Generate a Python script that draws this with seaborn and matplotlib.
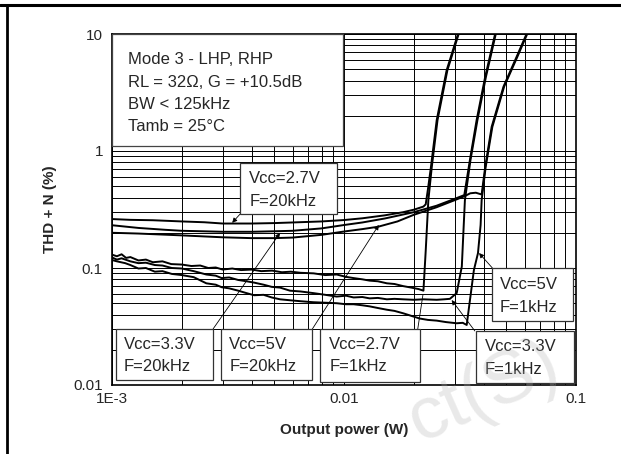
import matplotlib
matplotlib.use("Agg")
import matplotlib.pyplot as plt
import pandas as pd
import seaborn as sns
from matplotlib.lines import Line2D
from matplotlib.patches import Rectangle
from matplotlib.ticker import FixedLocator, FixedFormatter, NullFormatter

# --- data (output power in mW, THD+N in %) ---
p_27_20k = [1.0, 1.2, 1.5, 2.0, 2.5, 3.0, 4.0, 5.0, 6.0, 8.0, 10, 12, 15, 18, 20, 22,
            22.5, 23.0, 23.7, 25.1, 27.7, 31.0]
thd_27_20k = [0.262, 0.258, 0.256, 0.250, 0.246, 0.240, 0.240, 0.242, 0.245, 0.250, 0.257,
              0.266, 0.282, 0.300, 0.315, 0.335, 0.35, 0.47, 0.73, 1.84, 4.9, 10.0]

p_33_20k = [1.0, 1.3, 1.7, 2.0, 3.0, 4.0, 5.0, 6.0, 8.0, 10, 12, 15, 20, 25, 30, 33,
            34.9, 37.3, 40.6, 44.8]
thd_33_20k = [0.232, 0.220, 0.212, 0.208, 0.204, 0.204, 0.206, 0.208, 0.218, 0.233, 0.245,
              0.265, 0.300, 0.340, 0.390, 0.420, 0.84, 1.84, 4.3, 10.0]

p_5_20k = [1.0, 1.3, 2.0, 3.0, 4.0, 5.0, 6.0, 8.0, 10, 12, 14, 17, 20, 25, 30, 33, 35,
           37, 39.2, 40.6, 43.3, 48.7, 55.5, 61.2]
thd_5_20k = [0.200, 0.197, 0.190, 0.183, 0.180, 0.180, 0.182, 0.192, 0.205, 0.215, 0.225,
             0.250, 0.285, 0.330, 0.380, 0.410, 0.435, 0.440, 0.425, 0.73, 1.61, 3.55, 6.4, 10.0]

p_27_1k = [1.0, 1.05, 1.1, 1.15, 1.2, 1.3, 1.4, 1.5, 1.65, 1.8, 2.0, 2.2, 2.4, 2.6, 2.8,
           3.0, 3.3, 3.6, 4.0, 4.4, 4.9, 5.4, 5.9, 6.5, 7.4, 8.3, 9.3, 10.2, 11.0, 12.0,
           12.9, 14.0, 15.3, 16.5, 18.0, 19.5, 21.0, 22.0, 22.5, 23.1, 23.9, 25.3, 27.9, 31.2]
thd_27_1k = [0.130, 0.126, 0.131, 0.122, 0.124, 0.116, 0.118, 0.112, 0.114, 0.108, 0.107,
             0.104, 0.105, 0.100, 0.101, 0.097, 0.099, 0.096, 0.097, 0.094, 0.095, 0.092,
             0.093, 0.091, 0.090, 0.087, 0.088, 0.084, 0.082, 0.080, 0.078, 0.077, 0.074,
             0.073, 0.070, 0.068, 0.066, 0.064, 0.14, 0.38, 0.73, 1.84, 4.9, 10.0]

p_33_1k = [1.0, 1.05, 1.1, 1.2, 1.3, 1.4, 1.53, 1.65, 1.81, 2.0, 2.25, 2.55, 2.8, 2.97,
           3.2, 3.5, 3.8, 4.1, 4.5, 4.88, 5.3, 5.85, 6.5, 7.38, 8.3, 9.3, 10.2, 11.0, 12.0,
           12.9, 14.0, 15.3, 16.5, 18.0, 20.0, 22.0, 25.1, 27.0, 28.6, 30.6, 32.2, 32.7,
           33.2, 35.1, 37.6, 40.9, 45.1]
thd_33_1k = [0.123, 0.118, 0.121, 0.114, 0.110, 0.111, 0.106, 0.105, 0.100, 0.099, 0.094,
             0.088, 0.086, 0.082, 0.083, 0.079, 0.077, 0.075, 0.072, 0.069, 0.068, 0.064,
             0.063, 0.061, 0.059, 0.057, 0.058, 0.056, 0.0565, 0.055, 0.0555, 0.054, 0.0545,
             0.054, 0.0535, 0.054, 0.0535, 0.054, 0.0545, 0.061, 0.103, 0.20, 0.38, 0.84,
             1.84, 4.3, 10.0]

p_5_1k = [1.0, 1.05, 1.14, 1.2, 1.3, 1.4, 1.53, 1.65, 1.81, 2.0, 2.25, 2.55, 2.8, 2.97,
          3.2, 3.5, 3.8, 4.1, 4.5, 4.88, 5.3, 5.85, 6.5, 7.38, 8.3, 9.3, 10.2, 11.0, 12.0,
          12.9, 14.0, 15.3, 16.5, 18.0, 19.5, 21.2, 23.0, 25.1, 27.5, 30.6, 32.5, 33.8,
          34.9, 36.3, 37.8, 38.8, 39.2, 40.8, 43.6, 49.0, 55.9, 61.6]
thd_5_1k = [0.117, 0.114, 0.110, 0.106, 0.099, 0.100, 0.093, 0.094, 0.089, 0.087, 0.0835,
            0.074, 0.072, 0.0685, 0.067, 0.064, 0.061, 0.0585, 0.059, 0.056, 0.054, 0.053,
            0.052, 0.051, 0.0505, 0.050, 0.049, 0.049, 0.048, 0.047, 0.0455, 0.044, 0.043,
            0.041, 0.039, 0.037, 0.036, 0.0355, 0.0345, 0.0337, 0.034, 0.0326, 0.053, 0.096,
            0.134, 0.233, 0.38, 0.73, 1.61, 3.55, 6.4, 10.0]

curves = {
    "2.7V 20kHz": (p_27_20k, thd_27_20k),
    "3.3V 20kHz": (p_33_20k, thd_33_20k),
    "5V 20kHz": (p_5_20k, thd_5_20k),
    "2.7V 1kHz": (p_27_1k, thd_27_1k),
    "3.3V 1kHz": (p_33_1k, thd_33_1k),
    "5V 1kHz": (p_5_1k, thd_5_1k),
}

info_lines = ["Mode 3 - LHP, RHP", "RL = 32\u03a9, G = +10.5dB", "BW < 125kHz", "Tamb = 25\u00b0C"]
label_texts = [
    ("Vcc=2.7V", "F=20kHz"),
    ("Vcc=3.3V", "F=20kHz"),
    ("Vcc=5V", "F=20kHz"),
    ("Vcc=2.7V", "F=1kHz"),
    ("Vcc=3.3V", "F=1kHz"),
    ("Vcc=5V", "F=1kHz"),
]
x_ticks = [1e-3, 1e-2, 1e-1]
x_tick_labels = ["1E-3", "0.01", "0.1"]
y_ticks = [0.01, 0.1, 1, 10]
y_tick_labels = ["0.01", "0.1", "1", "10"]

sns.set_style("white")
plt.rcParams["font.family"] = ["Liberation Sans", "DejaVu Sans"]

rows = []
for name, (p, thd) in curves.items():
    for pi, ti in zip(p, thd):
        rows.append({"curve": name, "power_w": pi / 1000.0, "thd": ti})
df = pd.DataFrame(rows)

fig = plt.figure(figsize=(6.21, 4.54), dpi=100)
ax = fig.add_axes([112 / 621, 1 - 385 / 454, 464 / 621, 351 / 454])

sns.lineplot(data=df, x="power_w", y="thd", units="curve", estimator=None, sort=False,
             color="black", linewidth=1.4, ax=ax, legend=False, zorder=3)

ax.set_xscale("log")
ax.set_yscale("log")
ax.set_xlim(1e-3, 1e-1)
ax.set_ylim(0.01, 10)
ax.xaxis.set_major_locator(FixedLocator(x_ticks))
ax.xaxis.set_major_formatter(FixedFormatter(x_tick_labels))
ax.yaxis.set_major_locator(FixedLocator(y_ticks))
ax.yaxis.set_major_formatter(FixedFormatter(y_tick_labels))
ax.xaxis.set_minor_formatter(NullFormatter())
ax.yaxis.set_minor_formatter(NullFormatter())
ax.grid(True, which="both", color="black", linewidth=0.7)
ax.set_axisbelow(True)
ax.tick_params(which="both", direction="in", length=3, width=0.8, color="black")
ax.tick_params(axis="x", labelsize=11, pad=5)
ax.tick_params(axis="y", labelsize=11, pad=6.5)
for s in ax.spines.values():
    s.set_color("black")
    s.set_linewidth(1.2)

ax.set_xlabel("Output power (W)", fontsize=11, fontweight="bold", labelpad=12)
ax.set_ylabel("THD + N (%)", fontsize=11, fontweight="bold", labelpad=12)

# condition box
ax.add_patch(Rectangle((0.0, 0.681), 0.497, 0.319, transform=ax.transAxes, facecolor="white",
                       edgecolor="#444444", linewidth=0.9, zorder=5, clip_on=False))
for line, fy in zip(info_lines, [0.926, 0.862, 0.800, 0.737]):
    ax.text(0.0345, fy, line, transform=ax.transAxes, fontsize=12, va="center", ha="left", zorder=6)

# curve labels: box (x0, y0, x1, y1), text x, text rows, arrow start -> tip (axes fraction)
box_pos = [
    (0.276, 0.487, 0.485, 0.633),
    (0.008, 0.014, 0.218, 0.160),
    (0.235, 0.014, 0.432, 0.160),
    (0.448, 0.009, 0.664, 0.160),
    (0.784, 0.006, 0.996, 0.155),
    (0.818, 0.183, 0.994, 0.333),
]
text_pos = [
    (0.296, 0.589, 0.522),
    (0.026, 0.114, 0.052),
    (0.253, 0.114, 0.052),
    (0.468, 0.114, 0.052),
    (0.804, 0.111, 0.045),
    (0.836, 0.285, 0.221),
]
arrows = [
    ((0.276, 0.487), (0.259, 0.462), True),
    ((0.218, 0.160), (0.362, 0.433), True),
    ((0.432, 0.160), (0.575, 0.456), True),
    ((0.659, 0.160), (0.670, 0.256), False),
    ((0.782, 0.154), (0.732, 0.242), True),
    ((0.820, 0.333), (0.791, 0.376), True),
]
for (l1, l2), (x0, y0, x1, y1), (tx, ty1, ty2), (start, tip, head) in zip(label_texts, box_pos, text_pos, arrows):
    ax.add_patch(Rectangle((x0, y0), x1 - x0, y1 - y0, transform=ax.transAxes, facecolor="white",
                           edgecolor="#333333", linewidth=0.9, zorder=5, clip_on=False))
    ax.text(tx, ty1, l1, transform=ax.transAxes, fontsize=12, va="center", ha="left", zorder=6)
    ax.text(tx, ty2, l2, transform=ax.transAxes, fontsize=12, va="center", ha="left", zorder=6)
    ax.annotate("", xy=tip, xytext=start, xycoords="axes fraction", textcoords="axes fraction",
                arrowprops=dict(arrowstyle="-|>" if head else "-", color="black", lw=0.6,
                                mutation_scale=7, shrinkA=0, shrinkB=0), zorder=4)

# page frame lines
fig.add_artist(Line2D([0, 1], [1 - 4.5 / 454] * 2, transform=fig.transFigure, color="black", lw=2.2))
fig.add_artist(Line2D([7 / 621] * 2, [0, 1 - 4.5 / 454], transform=fig.transFigure, color="black", lw=2.0))

# faint watermark
fig.text(0.78, 0.135, "ct(S)", fontsize=54, color="#b0b0b0", alpha=0.28, rotation=24,
         ha="center", va="center", zorder=10)

fig.savefig("out.png", dpi=100)
